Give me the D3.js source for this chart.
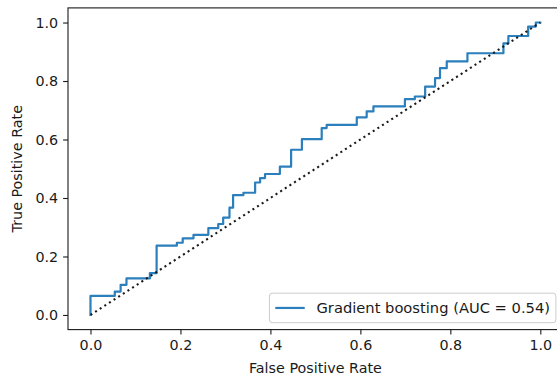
<!DOCTYPE html>
<html>
<head>
<meta charset="utf-8">
<script src="https://cdn.jsdelivr.net/npm/d3@7"></script>
<style>
  body { margin: 0; background: #fff; }
  svg { display: block; font-family: "DejaVu Sans", sans-serif; }
</style>
</head>
<body>
<div id="chart"></div>
<script>
// ROC curve corners
const fpr = [0, 0, 0.054, 0.054, 0.067, 0.067, 0.080, 0.080, 0.132, 0.132, 0.147, 0.147,
  0.192, 0.192, 0.205, 0.205, 0.229, 0.229, 0.262, 0.262, 0.284, 0.284, 0.295, 0.295,
  0.309, 0.309, 0.317, 0.317, 0.340, 0.340, 0.366, 0.366, 0.377, 0.377, 0.388, 0.388,
  0.421, 0.421, 0.446, 0.446, 0.470, 0.470, 0.514, 0.514, 0.525, 0.525, 0.592, 0.592,
  0.614, 0.614, 0.629, 0.629, 0.699, 0.699, 0.721, 0.721, 0.744, 0.744, 0.766, 0.766,
  0.777, 0.777, 0.792, 0.792, 0.838, 0.838, 0.918, 0.918, 0.929, 0.929, 0.973, 0.973,
  0.990, 0.990, 1.0];
const tpr = [0, 0.065, 0.065, 0.080, 0.080, 0.103, 0.103, 0.125, 0.125, 0.143, 0.143, 0.237,
  0.237, 0.247, 0.247, 0.262, 0.262, 0.274, 0.274, 0.297, 0.297, 0.311, 0.311, 0.333,
  0.333, 0.367, 0.367, 0.410, 0.410, 0.418, 0.418, 0.453, 0.453, 0.468, 0.468, 0.482,
  0.482, 0.507, 0.507, 0.565, 0.565, 0.601, 0.601, 0.639, 0.639, 0.650, 0.650, 0.676,
  0.676, 0.696, 0.696, 0.713, 0.713, 0.738, 0.738, 0.747, 0.747, 0.781, 0.781, 0.810,
  0.810, 0.844, 0.844, 0.867, 0.867, 0.895, 0.895, 0.929, 0.929, 0.954, 0.954, 0.986,
  0.986, 1.0, 1.0];
const chance = [0, 1];
const ticks = [0, 0.2, 0.4, 0.6, 0.8, 1.0];
const legendLabel = "Gradient boosting (AUC = 0.54)";

const width = 557, height = 383;
const m = { left: 68, right: 562.8, top: 7.9, bottom: 329.6 };
const fs = 14.3;      // a bit above 13.9 to mimic the hinted matplotlib text
const ink = "#1a1a1a";

const svg = d3.select("#chart").append("svg")
  .attr("width", width)
  .attr("height", height);

const x = d3.scaleLinear().domain([-0.05, 1.05]).range([m.left, m.right]);
const y = d3.scaleLinear().domain([-0.05, 1.05]).range([m.bottom, m.top]);

// axes
const xAxis = d3.axisBottom(x).tickValues(ticks).tickFormat(d3.format(".1f"))
  .tickSize(4.9).tickPadding(4.9).tickSizeOuter(0);
const yAxis = d3.axisLeft(y).tickValues(ticks).tickFormat(d3.format(".1f"))
  .tickSize(4.9).tickPadding(4.9).tickSizeOuter(0);

const gx = svg.append("g").attr("transform", `translate(0,${m.bottom})`).call(xAxis);
const gy = svg.append("g").attr("transform", `translate(${m.left},0)`).call(yAxis);
[gx, gy].forEach(g => {
  g.select(".domain").remove();
  g.selectAll(".tick line").attr("stroke", ink).attr("stroke-width", 1.1);
  g.selectAll(".tick text").attr("fill", ink)
    .style("font-family", "DejaVu Sans").style("font-size", fs + "px");
});

// curve
const line = d3.line().x(d => x(d[0])).y(d => y(d[1]));
svg.append("path")
  .datum(fpr.map((f, i) => [f, tpr[i]]))
  .attr("d", line)
  .attr("fill", "none")
  .attr("stroke", "#2a7fbc")
  .attr("stroke-width", 2.2)
  .attr("stroke-linejoin", "round")
  .attr("stroke-linecap", "square");

// chance diagonal
svg.append("path")
  .datum(chance.map(v => [v, v]))
  .attr("d", line)
  .attr("fill", "none")
  .attr("stroke", ink)
  .attr("stroke-width", 2.08)
  .attr("stroke-dasharray", "2.08,3.44");

// spines
svg.append("rect")
  .attr("x", m.left).attr("y", m.top)
  .attr("width", m.right - m.left).attr("height", m.bottom - m.top)
  .attr("fill", "none").attr("stroke", ink).attr("stroke-width", 1.1);

// axis labels
svg.append("text")
  .attr("x", (m.left + m.right) / 2).attr("y", 373)
  .attr("text-anchor", "middle")
  .attr("fill", ink)
  .style("font-size", fs + "px")
  .text("False Positive Rate");

svg.append("text")
  .attr("transform", `translate(22,${(m.top + m.bottom) / 2}) rotate(-90)`)
  .attr("text-anchor", "middle")
  .attr("fill", ink)
  .style("font-size", fs + "px")
  .text("True Positive Rate");

// legend, lower right
const lfs = 14.7;
const lg = svg.append("g");
const box = lg.append("rect");
const txt = lg.append("text")
  .attr("fill", ink)
  .style("font-size", lfs + "px")
  .text(legendLabel);
const tw = txt.node().getComputedTextLength();
const pad = 0.4 * lfs, hl = 2 * lfs, htp = 0.8 * lfs;
const bw = pad + hl + htp + tw + pad;
const bh = 29.5;
const bx = m.right - 6.9 - bw;
const by = m.bottom - 6.9 - bh;
box.attr("x", bx).attr("y", by).attr("width", bw).attr("height", bh)
  .attr("rx", 2.8)
  .attr("fill", "#fff").attr("fill-opacity", 0.8)
  .attr("stroke", "#cccccc").attr("stroke-width", 1);
lg.append("line")
  .attr("x1", bx + pad).attr("x2", bx + pad + hl)
  .attr("y1", by + bh / 2).attr("y2", by + bh / 2)
  .attr("stroke", "#2a7fbc").attr("stroke-width", 2.2);
txt.attr("x", bx + pad + hl + htp).attr("y", by + bh / 2).attr("dy", "0.36em");
</script>
</body>
</html>
